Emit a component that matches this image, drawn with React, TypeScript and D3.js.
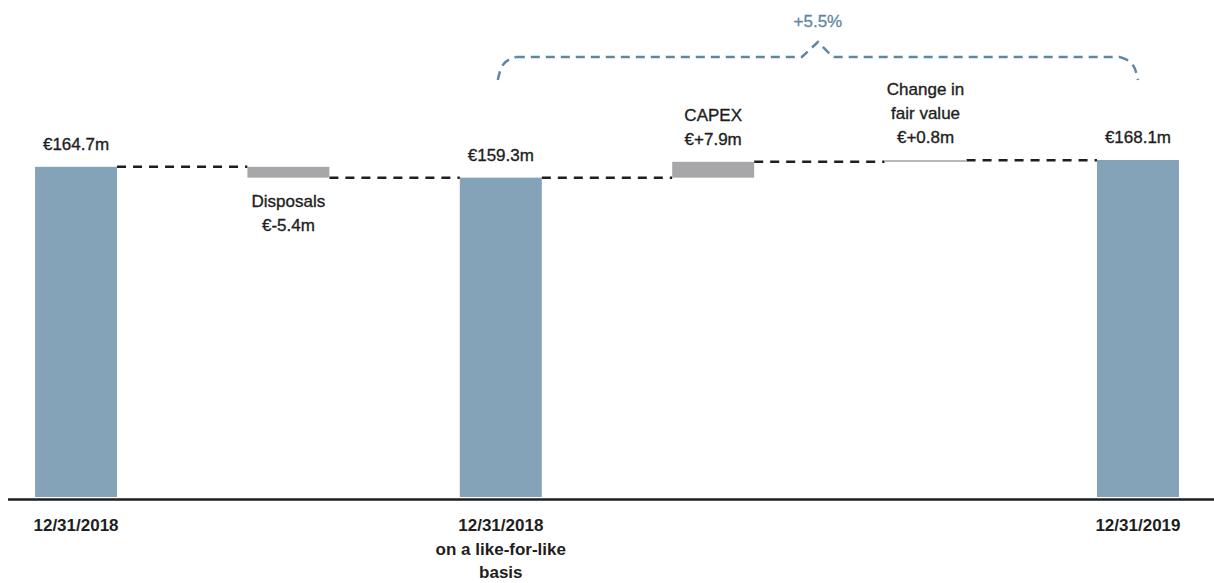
import React from "react";
import * as d3 from "d3";

const categories = ["start", "disposals", "lfl", "capex", "fairValue", "end"];
const kinds = ["total", "delta", "total", "delta", "delta", "total"];
const values = [164.7, -5.4, 159.3, 7.9, 0.8, 168.1];
const valueLabels: string[][] = [
  ["€164.7m"],
  ["Disposals", "€-5.4m"],
  ["€159.3m"],
  ["CAPEX", "€+7.9m"],
  ["Change in", "fair value", "€+0.8m"],
  ["€168.1m"],
];
const axisLabels: string[][] = [
  ["12/31/2018"],
  [],
  ["12/31/2018", "on a like-for-like", "basis"],
  [],
  [],
  ["12/31/2019"],
];
const growthLabel = "+5.5%";

const W = 1214;
const H = 583;
const FONT = "'Liberation Sans', Arial, sans-serif";

export default function App() {
  const x = d3
    .scaleBand<string>()
    .domain(categories)
    .range([0, 1214])
    .paddingInner(0.614)
    .paddingOuter(0.165);
  const y = d3.scaleLinear().domain([0, 168.1]).range([497, 160]);

  let running = 0;
  const segs = categories.map((c, i) => {
    let lo: number, hi: number, level: number;
    if (kinds[i] === "total") {
      lo = 0;
      hi = values[i];
      running = values[i];
      level = values[i];
    } else {
      const prev = running;
      running = prev + values[i];
      lo = Math.min(prev, running);
      hi = Math.max(prev, running);
      level = running;
    }
    return { c, i, lo, hi, level, kind: kinds[i], v: values[i] };
  });

  const bw = x.bandwidth();
  const lineGen = d3.line<[number, number]>().curve(d3.curveBasis);

  const bx0 = (x("lfl") as number) + bw / 2 - 3;
  const bx1 = (x("end") as number) + bw / 2;
  const bmid = (bx0 + bx1) / 2;
  const by = 57;
  const bracketPath =
    (lineGen([
      [bx0, 80],
      [bx0 + 4, 62],
      [bx0 + 18, by],
    ]) as string) +
    `M${bx0 + 18},${by}L${bmid - 16},${by}L${bmid},${by - 15}L${bmid + 15},${by}L${bx1 - 18},${by}` +
    (lineGen([
      [bx1 - 18, by],
      [bx1 - 4, 62],
      [bx1, 80],
    ]) as string);

  return (
    <svg
      width={W}
      height={H}
      style={{ position: "absolute", left: 0, top: 0, background: "#fff" }}
      fontFamily={FONT}
    >
      {segs.slice(0, -1).map((s, k) => {
        const next = segs[k + 1];
        const yy = y(s.level);
        return (
          <line
            key={"c" + k}
            x1={(x(s.c) as number) + bw}
            x2={x(next.c) as number}
            y1={yy}
            y2={yy}
            stroke="#1e1e1e"
            strokeWidth={2.5}
            strokeDasharray="9 7"
          />
        );
      })}
      {segs.map((s) => (
        <rect
          key={"b" + s.c}
          x={x(s.c)}
          width={bw}
          y={y(s.hi)}
          height={Math.max(1.3, y(s.lo) - y(s.hi))}
          fill={s.kind === "total" ? "#85a3b8" : "#a7a7aa"}
        />
      ))}
      <line x1={8} x2={1214} y1={499.5} y2={499.5} stroke="#1e1e1e" strokeWidth={2.5} />
      {segs.map((s) => {
        const cx = (x(s.c) as number) + bw / 2;
        const lines = valueLabels[s.i];
        const n = lines.length;
        const base = s.v < 0 ? y(s.lo) + 29 : y(s.hi) - 17;
        return (
          <text
            key={"l" + s.c}
            textAnchor="middle"
            fontSize={17}
            fill="#1e1e1e"
            stroke="#1e1e1e"
            strokeWidth={0.35}
          >
            {lines.map((t, j) => (
              <tspan key={j} x={cx} y={s.v < 0 ? base + j * 24 : base - (n - 1 - j) * 24}>
                {t}
              </tspan>
            ))}
          </text>
        );
      })}
      {categories.map((c, i) => {
        const cx = (x(c) as number) + bw / 2;
        return (
          <text key={"a" + c} textAnchor="middle" fontSize={17} fontWeight="bold" fill="#1e1e1e">
            {axisLabels[i].map((t, j) => (
              <tspan key={j} x={cx} y={531 + j * 23.5}>
                {t}
              </tspan>
            ))}
          </text>
        );
      })}
      <path
        d={bracketPath}
        fill="none"
        stroke="#5f87a3"
        strokeWidth={2.5}
        strokeDasharray="9 6"
      />
      <text x={bmid} y={26.5} textAnchor="middle" fontSize={17} fill="#5f87a3" stroke="#5f87a3" strokeWidth={0.3}>
        {growthLabel}
      </text>
    </svg>
  );
}
